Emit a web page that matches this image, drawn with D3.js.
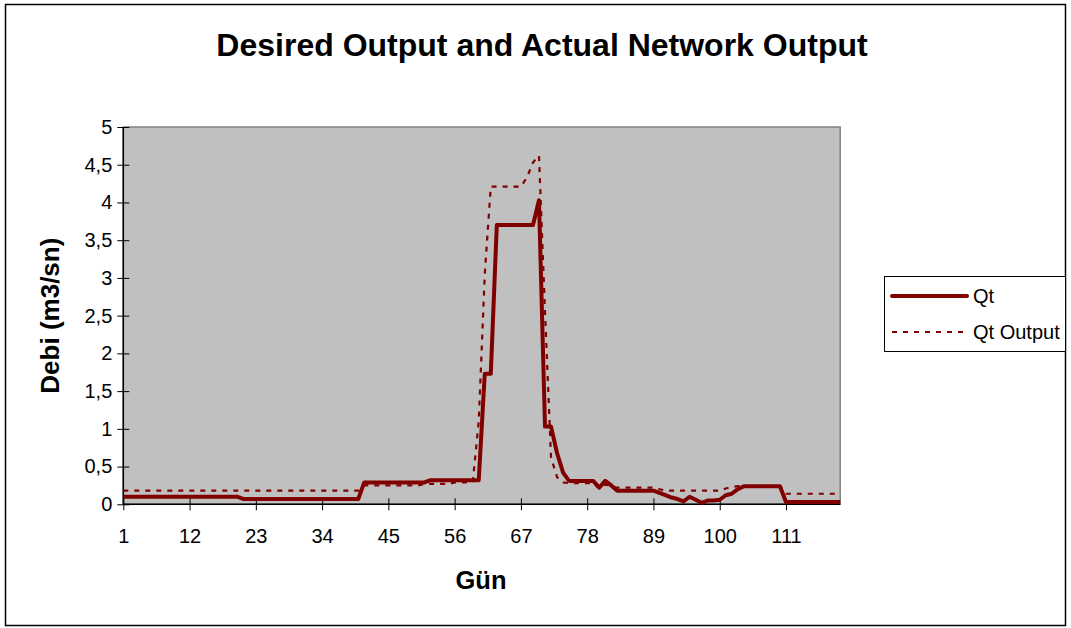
<!DOCTYPE html>
<html>
<head>
<meta charset="utf-8">
<script src="https://cdn.jsdelivr.net/npm/d3@7"></script>
<style>
  body { margin: 0; background: #fff; }
  svg { font-family: Arial, "Liberation Sans", sans-serif; }
  .tick text { font-size: 20px; fill: #000; }
</style>
</head>
<body>
<svg width="1071" height="628"></svg>
<script>
// Data
var days = d3.range(1, 121)
var xTickLabels = [1, 12, 23, 34, 45, 56, 67, 78, 89, 100, 111]
var yTickLabels = [0, 0.5, 1, 1.5, 2, 2.5, 3, 3.5, 4, 4.5, 5]

var qt = [
  0.10, 0.10, 0.10, 0.10, 0.10, 0.10, 0.10, 0.10, 0.10, 0.10,
  0.10, 0.10, 0.10, 0.10, 0.10, 0.10, 0.10, 0.10, 0.10, 0.10,
  0.07, 0.07, 0.07, 0.07, 0.07, 0.07, 0.07, 0.07, 0.07, 0.07,
  0.07, 0.07, 0.07, 0.07, 0.07, 0.07, 0.07, 0.07, 0.07, 0.07,
  0.29, 0.29, 0.29, 0.29, 0.29, 0.29, 0.29, 0.29, 0.29, 0.29,
  0.29, 0.32, 0.32, 0.32, 0.32, 0.32, 0.32, 0.32, 0.32, 0.32,
  1.73, 1.73, 3.70, 3.70, 3.70, 3.70, 3.70, 3.70, 3.70, 4.03,
  1.03, 1.03, 0.68, 0.42, 0.31, 0.31, 0.31, 0.31, 0.31, 0.22,
  0.31, 0.25, 0.18, 0.18, 0.18, 0.18, 0.18, 0.18, 0.18, 0.15,
  0.12, 0.09, 0.07, 0.04, 0.10, 0.06, 0.02, 0.05, 0.05, 0.06,
  0.12, 0.14, 0.20, 0.24, 0.24, 0.24, 0.24, 0.24, 0.24, 0.24,
  0.03, 0.03, 0.03, 0.03, 0.03, 0.03, 0.03, 0.03, 0.03, 0.03
]

var qtOutput = [
  0.18, 0.18, 0.18, 0.18, 0.18, 0.18, 0.18, 0.18, 0.18, 0.18,
  0.18, 0.18, 0.18, 0.18, 0.18, 0.18, 0.18, 0.18, 0.18, 0.18,
  0.18, 0.18, 0.18, 0.18, 0.18, 0.18, 0.18, 0.18, 0.18, 0.18,
  0.18, 0.18, 0.18, 0.18, 0.18, 0.18, 0.18, 0.18, 0.18, 0.18,
  0.25, 0.25, 0.25, 0.25, 0.25, 0.25, 0.25, 0.25, 0.25, 0.25,
  0.27, 0.27, 0.27, 0.27, 0.27, 0.29, 0.29, 0.29, 0.29, 1.10,
  3.05, 4.21, 4.21, 4.21, 4.21, 4.21, 4.21, 4.33, 4.53, 4.62,
  2.55, 0.62, 0.36, 0.29, 0.28, 0.28, 0.28, 0.28, 0.28, 0.21,
  0.26, 0.24, 0.22, 0.22, 0.22, 0.22, 0.22, 0.22, 0.22, 0.20,
  0.18, 0.18, 0.18, 0.18, 0.18, 0.18, 0.18, 0.18, 0.18, 0.18,
  0.21, 0.23, 0.24, 0.24, 0.24, 0.24, 0.24, 0.24, 0.24, 0.24,
  0.14, 0.14, 0.14, 0.14, 0.14, 0.14, 0.14, 0.14, 0.14, 0.14
]

var lineColor = '#800000'

var svg = d3.select('svg')

// Outer chart frame
svg.append('rect')
  .attr('x', 5.5).attr('y', 4.5)
  .attr('width', 1060).attr('height', 621)
  .attr('fill', '#fff')
  .attr('stroke', '#000')
  .attr('stroke-width', 1.5)

// Plot area
var plotLeft = 123.3, plotRight = 840.2, plotTop = 127, plotBottom = 504.3

var x = d3.scaleLinear().domain([1, 120]).range([plotLeft, plotRight])
var y = d3.scaleLinear().domain([0, 5]).range([plotBottom, plotTop])

svg.append('rect')
  .attr('x', plotLeft).attr('y', plotTop)
  .attr('width', plotRight - plotLeft).attr('height', plotBottom - plotTop)
  .attr('fill', '#c0c0c0')
  .attr('stroke', '#808080')
  .attr('stroke-width', 1.5)

// Axes
var yAxis = svg.append('g')
  .attr('transform', 'translate(' + plotLeft + ',0)')
  .call(d3.axisLeft(y)
    .tickValues(yTickLabels)
    .tickSize(6)
    .tickPadding(5)
    .tickFormat(function(d) { return String(d).replace('.', ',') }))
yAxis.selectAll('.tick line').attr('x1', 6)

var xAxis = svg.append('g')
  .attr('transform', 'translate(0,' + plotBottom + ')')
  .call(d3.axisBottom(x)
    .tickValues(xTickLabels)
    .tickSize(6)
    .tickPadding(19))
xAxis.selectAll('.tick line').attr('y1', -6)

svg.selectAll('.domain').attr('stroke', '#000').attr('stroke-width', 1.5)
svg.selectAll('.tick line').attr('stroke', '#000')
svg.selectAll('.tick text').attr('font-family', null).attr('font-size', null)
yAxis.select('.domain').attr('d', 'M0,' + plotBottom + 'V' + plotTop)
xAxis.select('.domain').attr('d', 'M' + plotLeft + ',0H' + plotRight)

// Lines
var line = d3.line()
  .x(function(d, i) { return x(days[i]) })
  .y(function(d) { return y(d) })

svg.append('path')
  .datum(qtOutput)
  .attr('fill', 'none')
  .attr('stroke', lineColor)
  .attr('stroke-width', 2.2)
  .attr('stroke-dasharray', '5,6')
  .attr('d', line)

svg.append('path')
  .datum(qt)
  .attr('fill', 'none')
  .attr('stroke', lineColor)
  .attr('stroke-width', 4)
  .attr('stroke-linejoin', 'round')
  .attr('d', line)

// Titles
svg.append('text')
  .attr('x', 542).attr('y', 45)
  .attr('text-anchor', 'middle')
  .attr('dominant-baseline', 'central')
  .attr('font-size', 32).attr('font-weight', 'bold')
  .text('Desired Output and Actual Network Output')

svg.append('text')
  .attr('x', 481).attr('y', 580)
  .attr('text-anchor', 'middle')
  .attr('dominant-baseline', 'central')
  .attr('font-size', 25.5).attr('font-weight', 'bold')
  .text('Gün')

svg.append('text')
  .attr('transform', 'translate(50,' + (plotTop + plotBottom) / 2 + ') rotate(-90)')
  .attr('text-anchor', 'middle')
  .attr('dominant-baseline', 'central')
  .attr('font-size', 26).attr('font-weight', 'bold')
  .text('Debi (m3/sn)')

// Legend
var legend = svg.append('g')
legend.append('rect')
  .attr('x', 884.5).attr('y', 276.5)
  .attr('width', 181).attr('height', 75)
  .attr('fill', '#fff')
  .attr('stroke', '#000')
  .attr('stroke-width', 1)

var legendItems = [
  { name: 'Qt', width: 4, dash: null, y: 296 },
  { name: 'Qt Output', width: 2.2, dash: '5,6', y: 332 }
]
legendItems.forEach(function(d) {
  legend.append('line')
    .attr('x1', 892).attr('x2', 967)
    .attr('y1', d.y).attr('y2', d.y)
    .attr('stroke', lineColor)
    .attr('stroke-width', d.width)
    .attr('stroke-dasharray', d.dash)
    .attr('stroke-linecap', d.dash ? 'butt' : 'round')
  legend.append('text')
    .attr('x', 973).attr('y', d.y)
    .attr('dominant-baseline', 'central')
    .attr('font-size', 20)
    .text(d.name)
})
</script>
</body>
</html>
